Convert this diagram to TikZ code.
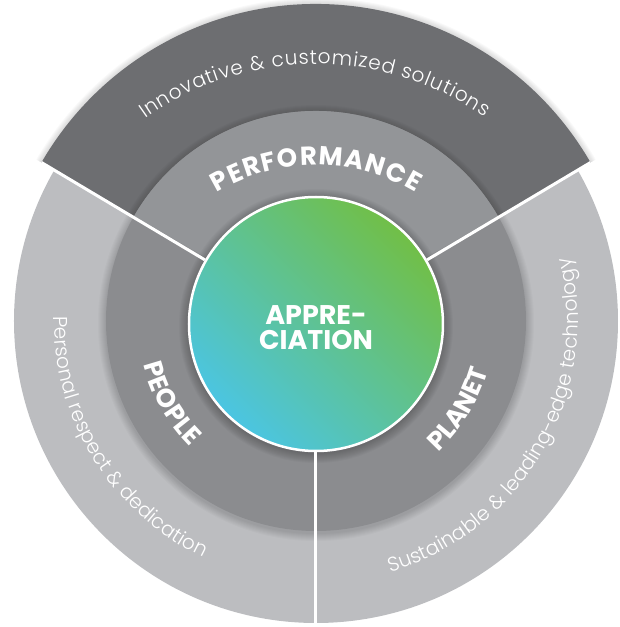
\documentclass[tikz,border=0pt]{standalone}
\usepackage{fontspec}
\setmainfont{Poppins}
\newfontfamily\thinfont{Poppins Light}
\newfontfamily\heavyfont{Poppins Bold}
\usetikzlibrary{decorations.text}

\definecolor{topgrey}{HTML}{6D6E71}
\definecolor{ringgrey}{HTML}{939598}
\definecolor{sidegrey}{HTML}{8B8C8F}
\definecolor{outergrey}{HTML}{BCBDC0}
\definecolor{appblue}{HTML}{4BC5E2}
\definecolor{appgreen}{HTML}{71BF47}

\newcommand\ringlight{\thinfont\fontsize{20}{20}\selectfont\color{white}}
\newcommand\ringbold{\heavyfont\fontsize{26}{26}\selectfont\color{white}}

\tikzset{
  divider/.style={draw=white, line width=3pt},
  arctext/.style={decorate, decoration={text along path,
      text align={fit to path}, text={#1}}},
}

\begin{document}
\begin{tikzpicture}[x=1pt, y=1pt]
	\useasboundingbox (-316,-306) rectangle (304,321);

	% outer ring
	\fill[outergrey] (0,0) circle (302);
	\foreach \s in {1,...,6}
		\fill[black, opacity=0.025] (0,-3) -- (30:317+\s) arc[start angle=30, end angle=150, radius=317+\s] -- cycle;
	\fill[topgrey] (0,0) -- (30:317) arc[start angle=30, end angle=150, radius=317] -- cycle;

	% middle ring
	\foreach \s in {1,...,8}
		\fill[black, opacity=0.02] (0,-2) circle (210+\s);
	\fill[sidegrey] (0,0) circle (210);
	\fill[ringgrey] (0,0) -- (30:210) arc[start angle=30, end angle=150, radius=210] -- cycle;

	% shadow round the centre
	\foreach \s in {1,...,10}
		\fill[black, opacity=0.025] (0,-5) circle (127+\s);

	\coordinate (tl) at (150:317);
	\coordinate (tr) at (30:317);
	\coordinate (bt) at (270:310);

	\node[circle, minimum size=254, draw=white, line width=2.5pt,
		bottom color=appblue, top color=appgreen, shading angle=-45,
		align=center, font=\heavyfont\fontsize{27}{25}\selectfont, text=white]
		(apprec) at (0,-3) {\rule{0pt}{26pt}APPRE-\\CIATION};

	\draw[divider] (apprec.150) -- (tl);
	\draw[divider] (apprec.30) -- (tr);
	\draw[divider] (apprec.270) -- (bt);

	% texts along the rings
	\path[arctext={|\ringlight|Innovative {\&} customized solutions}]
		(0,-37) ++(125.5:294) arc[start angle=125.5, end angle=55, radius=294];
	\path[arctext={|\ringbold|PERFORMANCE}]
		(0,-37) ++(121:193) arc[start angle=121, end angle=59, radius=193];
	\path[arctext={|\ringlight|Personal respect {\&} dedication}]
		(179:262) arc[start angle=179, end angle=244.5, radius=262];
	\path[arctext={|\ringlight|Sustainable {\&} leading-edge technology}]
		(286.5:262) arc[start angle=286.5, end angle=374, radius=262];
	\path[arctext={|\ringbold|PEOPLE}]
		(194:178) arc[start angle=194, end angle=225, radius=178];
	\path[arctext={|\ringbold|PLANET}]
		(313:179) arc[start angle=313, end angle=343.5, radius=179];
\end{tikzpicture}
\end{document}
